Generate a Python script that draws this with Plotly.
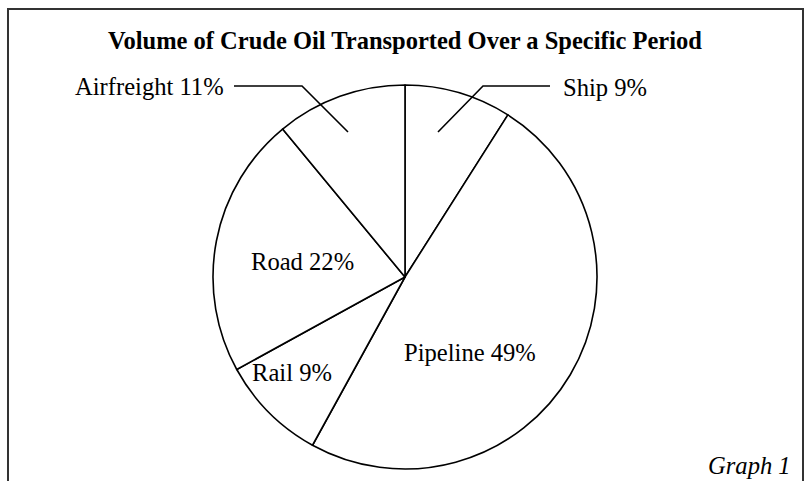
import plotly.graph_objects as go

W, H = 811, 481

# Data
categories = ["Ship", "Pipeline", "Rail", "Road", "Airfreight"]
values = [9, 49, 9, 22, 11]
title_text = "Volume of Crude Oil Transported Over a Specific Period"
caption = "Graph 1"


def px(x, y):
    return x / W, 1 - y / H


# pie geometry (pixels)
cx, cy, r = 405, 277, 192

fig = go.Figure()
fig.add_trace(go.Pie(
    labels=categories,
    values=values,
    sort=False,
    direction="clockwise",
    rotation=0,
    textinfo="none",
    hoverinfo="none",
    marker=dict(colors=["white"] * len(values), line=dict(color="black", width=1.6)),
    domain=dict(x=[(cx - r) / W, (cx + r) / W], y=[1 - (cy + r) / H, 1 - (cy - r) / H]),
    showlegend=False,
))

font = dict(family="Liberation Serif, Times New Roman, serif", size=24.6, color="black")

# label positions (pixels)
label_pos = {
    "Ship": (561, 87, "left"),
    "Pipeline": (470, 352, "center"),
    "Rail": (292, 372, "center"),
    "Road": (302, 261, "center"),
    "Airfreight": (226, 86, "right"),
}
annotations = []
for c, v in zip(categories, values):
    x, y, al = label_pos[c]
    xp, yp = px(x, y)
    annotations.append(dict(x=xp, y=yp, xref="paper", yref="paper", text=f"{c} {v}%",
                            showarrow=False, xanchor=al, yanchor="middle", font=font))

tx, ty = px(405, 40)
annotations.append(dict(x=tx, y=ty, xref="paper", yref="paper",
                        text=f"<b>{title_text}</b>", showarrow=False,
                        xanchor="center", yanchor="middle",
                        font=dict(family="Liberation Serif, Times New Roman, serif", size=24.5, color="black")))
gx, gy = px(793, 465)
annotations.append(dict(x=gx, y=gy, xref="paper", yref="paper", text=f"<i>{caption}</i>",
                        showarrow=False, xanchor="right", yanchor="middle", font=font))


def path(points):
    s = ""
    for i, (x, y) in enumerate(points):
        xp, yp = px(x, y)
        s += ("M" if i == 0 else "L") + f"{xp:.5f},{yp:.5f} "
    return s


shapes = [
    # leader lines
    dict(type="path", xref="paper", yref="paper", path=path([(438, 132), (483, 86), (550, 86)]),
         line=dict(color="black", width=1.6)),
    dict(type="path", xref="paper", yref="paper", path=path([(348, 132), (302, 86), (234, 86)]),
         line=dict(color="black", width=1.6)),
    # frame
    dict(type="path", xref="paper", yref="paper", path=path([(8, 482), (8, 9), (803, 9), (803, 482)]),
         line=dict(color="#333333", width=2)),
]

fig.update_layout(
    width=W, height=H,
    margin=dict(l=0, r=0, t=0, b=0),
    paper_bgcolor="white", plot_bgcolor="white",
    annotations=annotations,
    shapes=shapes,
)

fig.write_html("out.html", config={"displayModeBar": False},
               post_script="document.body.style.margin='0';document.body.style.overflow='hidden';")
